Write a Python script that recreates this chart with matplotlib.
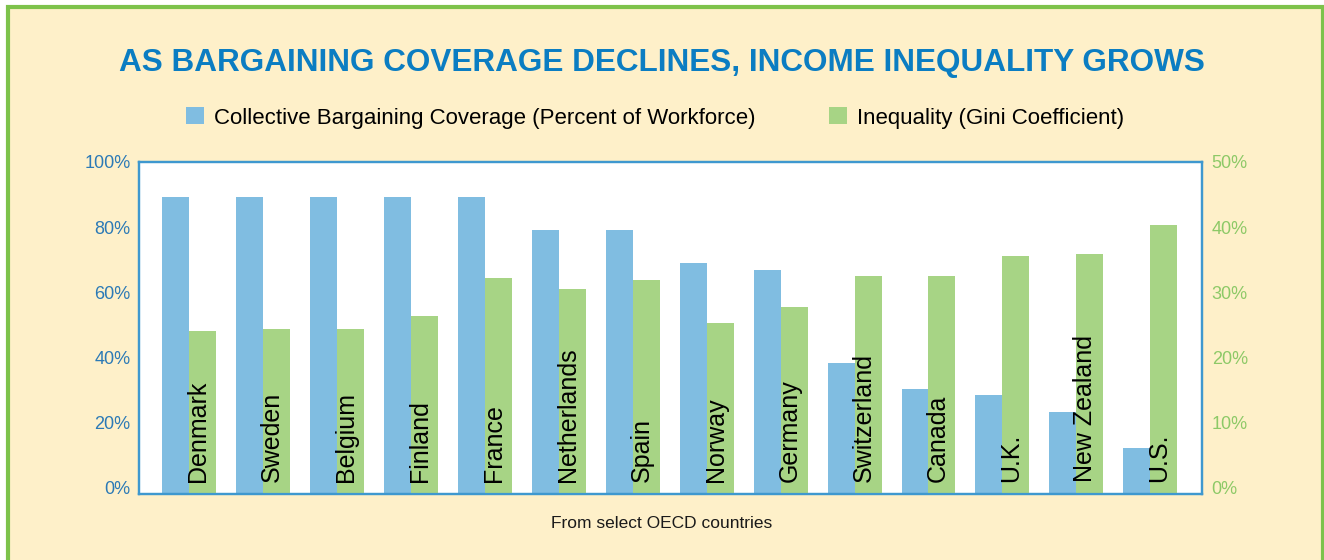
import matplotlib
matplotlib.use("Agg")
import matplotlib.pyplot as plt
import numpy as np
from matplotlib.patches import Rectangle
from matplotlib.transforms import ScaledTranslation

countries = ["Denmark", "Sweden", "Belgium", "Finland", "France", "Netherlands", "Spain",
             "Norway", "Germany", "Switzerland", "Canada", "U.K.", "New Zealand", "U.S."]
coverage = [89.5, 89.5, 89.5, 89.5, 89.5, 79.6, 79.6, 69.7, 67.6, 39.6, 31.5, 29.7, 24.6, 13.8]
gini = [24.5, 24.8, 24.8, 26.8, 32.6, 30.8, 32.3, 25.7, 28.1, 32.9, 32.9, 35.8, 36.1, 40.5]
left_ticks = [0, 20, 40, 60, 80, 100]
right_ticks = [0, 10, 20, 30, 40, 50]
title = "AS BARGAINING COVERAGE DECLINES, INCOME INEQUALITY GROWS"
legend_labels = ["Collective Bargaining Coverage (Percent of Workforce)", "Inequality (Gini Coefficient)"]
caption = "From select OECD countries"

BLUE_BAR = "#80BDE1"
GREEN_BAR = "#A7D485"
TITLE_BLUE = "#0B7DC2"
LEFT_TICK = "#2C7AB6"
RIGHT_TICK = "#8DC967"
FRAME = "#3E98CF"
CREAM = "#FEF0C9"
BORDER = "#7DC24B"

plt.rcParams['font.family'] = ['Liberation Sans', 'DejaVu Sans']

W, H = 1324, 560
fig = plt.figure(figsize=(W / 100, H / 100), dpi=100)
fig.patch.set_facecolor("white")

# cream panel with green border
x0, x1, ytop = 8, 1323, 7
fig.patches.append(Rectangle((x0 / W, -0.05), (x1 - x0) / W, (H - ytop) / H + 0.05,
                             transform=fig.transFigure, facecolor=CREAM, edgecolor=BORDER,
                             linewidth=3.0, zorder=-5))

ax = fig.add_axes([139 / W, (H - 494) / H, (1202 - 139) / W, (494 - 162) / H])
ax.set_facecolor("white")
ax2 = ax.twinx()
ax.set_zorder(2)
ax2.set_zorder(3)

x = np.arange(len(countries))
bw = 0.365
b1 = ax.bar(x - bw / 2, coverage, width=bw, color=BLUE_BAR, zorder=2)
b2 = ax2.bar(x + bw / 2, gini, width=bw, color=GREEN_BAR, zorder=2)

ax.set_ylim(0, 100)
ax2.set_ylim(0, 50)
ax.set_xlim(-0.68, len(countries) - 1 + 0.70)
ax.set_xticks([])

ax.set_yticks(left_ticks)
ax.set_yticklabels([f"{v}%" for v in left_ticks])
ax2.set_yticks(right_ticks)
ax2.set_yticklabels([f"{v}%" for v in right_ticks])
ax.tick_params(axis="y", length=0, pad=6, labelsize=13, labelcolor=LEFT_TICK)
ax2.tick_params(axis="y", length=0, pad=7, labelsize=13, labelcolor=RIGHT_TICK)

for lab, v in zip(ax.get_yticklabels(), left_ticks):
    dy = (1 - v / 100) * 6.5
    lab.set_transform(lab.get_transform() + ScaledTranslation(0, dy / 100, fig.dpi_scale_trans))
for lab, v in zip(ax2.get_yticklabels(), right_ticks):
    dy = (1 - v / 50) * 6.5
    lab.set_transform(lab.get_transform() + ScaledTranslation(0, dy / 100, fig.dpi_scale_trans))

for a in (ax, ax2):
    for s in a.spines.values():
        s.set_color(FRAME)
        s.set_linewidth(1.6)

# country labels inside bars
for i, name in enumerate(countries):
    ax2.text(i + 0.12, 1.75, name, rotation=90, ha="center", va="bottom",
             fontsize=18, color="black", zorder=5)

fig.text(0.5, 1 - 63 / H, title, ha="center", va="center", fontsize=22.7,
         fontweight="bold", color=TITLE_BLUE)

leg = fig.legend([b1, b2], legend_labels, loc="center", bbox_to_anchor=(0.4947, 1 - 118 / H),
                 ncol=2, frameon=False, fontsize=16, handlelength=0.8, handleheight=0.8,
                 handletextpad=0.45, columnspacing=3.3)

fig.text(0.5, 1 - 523 / H, caption, ha="center", va="center", fontsize=12.5, color="#1a1a1a")

fig.savefig("out.png", dpi=100, facecolor=fig.get_facecolor())
